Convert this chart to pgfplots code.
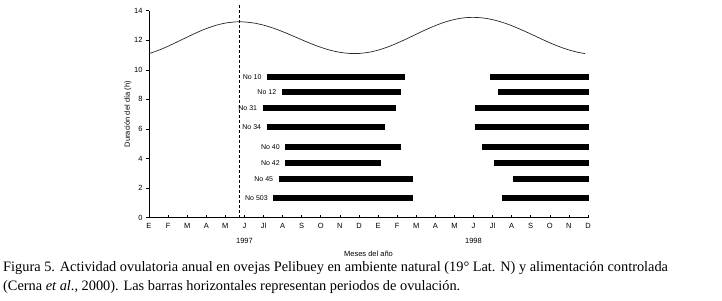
\documentclass[border=0pt]{standalone}
\usepackage{fontspec}
\setmainfont{Liberation Serif}
\newfontfamily\arial{Liberation Sans}
\usepackage{pgfplots}
\pgfplotsset{compat=1.18}
\begin{document}
\begin{tikzpicture}
\path[use as bounding box] (-149bp,-83.3bp) rectangle (573bp,217.7bp);
\begin{axis}[
  scale only axis, width=439bp, height=207bp,
  xmin=0, xmax=23, ymin=0, ymax=14,
  axis x line*=bottom, axis y line*=left,
  axis line style={black, line width=0.8bp},
  clip=false,
  xtick={0,...,23},
  xticklabels={E,F,M,A,M,J,Jl,A,S,O,N,D,E,F,M,A,M,J,Jl,A,S,O,N,D},
  ytick=\empty,
  extra y ticks={0,2,4,6,8,10,12,14},
  extra y tick style={tick align=outside},
  tick align=inside,
  major tick length=3bp,
  tick style={black, line width=0.6bp},
  /pgf/number format/assume math mode=true,
  ticklabel style={font=\arial\fontsize{7.5bp}{9bp}\selectfont},
  xticklabel style={yshift=-2bp},
]
\addplot[black!85, line width=0.7bp, smooth] coordinates {
(0,11.10) (0.5,11.324) (1,11.598) (1.5,11.903) (2,12.216) (2.5,12.519) (3,12.789) (3.5,13.009) (4,13.163) (4.5,13.241) (4.73,13.25)
(5,13.239) (5.5,13.165) (6,13.024) (6.5,12.826) (7,12.585) (7.5,12.314) (8,12.036) (8.5,11.766) (9,11.524) (9.5,11.326) (10,11.186) (10.5,11.111) (10.77,11.10)
(11,11.108) (11.5,11.183) (12,11.331) (12.5,11.543) (13,11.805) (13.5,12.099) (14,12.409) (14.5,12.714) (15,12.991) (15.5,13.229) (16,13.407) (16.5,13.517) (16.96,13.55)
(17.5,13.508) (18,13.395) (18.5,13.219) (19,12.989) (19.5,12.718) (20,12.425) (20.5,12.123) (21,11.831) (21.5,11.567) (22,11.346) (22.5,11.177) (22.85,11.10)
};
\addplot[black, line width=0.8bp, dash pattern=on 3bp off 2bp] coordinates {(4.73,0) (4.73,14.4)};
% bars
\tikzset{barlab/.style={pos=0, anchor=east, inner sep=0pt, xshift=-2.5bp, font=\arial\fontsize{7bp}{8bp}\selectfont}}
\addplot[black, line width=6bp] coordinates {(6.18,9.53) (13.39,9.53)} node[barlab] {No 10};
\addplot[black, line width=6bp] coordinates {(17.86,9.53) (23.05,9.53)};
\addplot[black, line width=6bp] coordinates {(6.95,8.50) (13.18,8.50)} node[barlab] {No 12};
\addplot[black, line width=6bp] coordinates {(18.28,8.50) (23.05,8.50)};
\addplot[black, line width=6bp] coordinates {(5.95,7.40) (12.96,7.40)} node[barlab] {No 31};
\addplot[black, line width=6bp] coordinates {(17.07,7.40) (23.05,7.40)};
\addplot[black, line width=6bp] coordinates {(6.16,6.11) (12.34,6.11)} node[barlab] {No 34};
\addplot[black, line width=6bp] coordinates {(17.07,6.11) (23.05,6.11)};
\addplot[black, line width=6bp] coordinates {(7.14,4.76) (13.18,4.76)} node[barlab] {No 40};
\addplot[black, line width=6bp] coordinates {(17.45,4.76) (23.05,4.76)};
\addplot[black, line width=6bp] coordinates {(7.14,3.68) (12.13,3.68)} node[barlab] {No 42};
\addplot[black, line width=6bp] coordinates {(18.07,3.68) (23.05,3.68)};
\addplot[black, line width=6bp] coordinates {(6.79,2.64) (13.81,2.64)} node[barlab] {No 45};
\addplot[black, line width=6bp] coordinates {(19.07,2.64) (23.05,2.64)};
\addplot[black, line width=6bp] coordinates {(6.51,1.31) (13.81,1.31)} node[barlab] {No 503};
\addplot[black, line width=6bp] coordinates {(18.49,1.31) (23.05,1.31)};
% year labels
\node[font=\arial\fontsize{7.5bp}{9bp}\selectfont] at (axis cs:5,0) [yshift=-23.3bp] {1997};
\node[font=\arial\fontsize{7.5bp}{9bp}\selectfont] at (axis cs:17,0) [yshift=-23.3bp] {1998};
\node[font=\arial\fontsize{7.5bp}{9bp}\selectfont] at (rel axis cs:0.5,0) [yshift=-36bp] {Meses del año};
\node[xshift=-21bp, rotate=90, font=\arial\fontsize{7.5bp}{9bp}\selectfont] at (rel axis cs:0,0.5) {Duración del día (h)};
\end{axis}
\node[anchor=base west, inner sep=0pt, font=\fontsize{14.35bp}{16bp}\selectfont] at (-146bp,-54bp) {Figura 5. Actividad ovulatoria anual en ovejas Pelibuey en ambiente natural (19° Lat. N) y alimentación controlada};
\node[anchor=base west, inner sep=0pt, font=\fontsize{14.35bp}{16bp}\selectfont] at (-146bp,-72.3bp) {(Cerna \textit{et al}., 2000). Las barras horizontales representan periodos de ovulación.};
\end{tikzpicture}
\end{document}
